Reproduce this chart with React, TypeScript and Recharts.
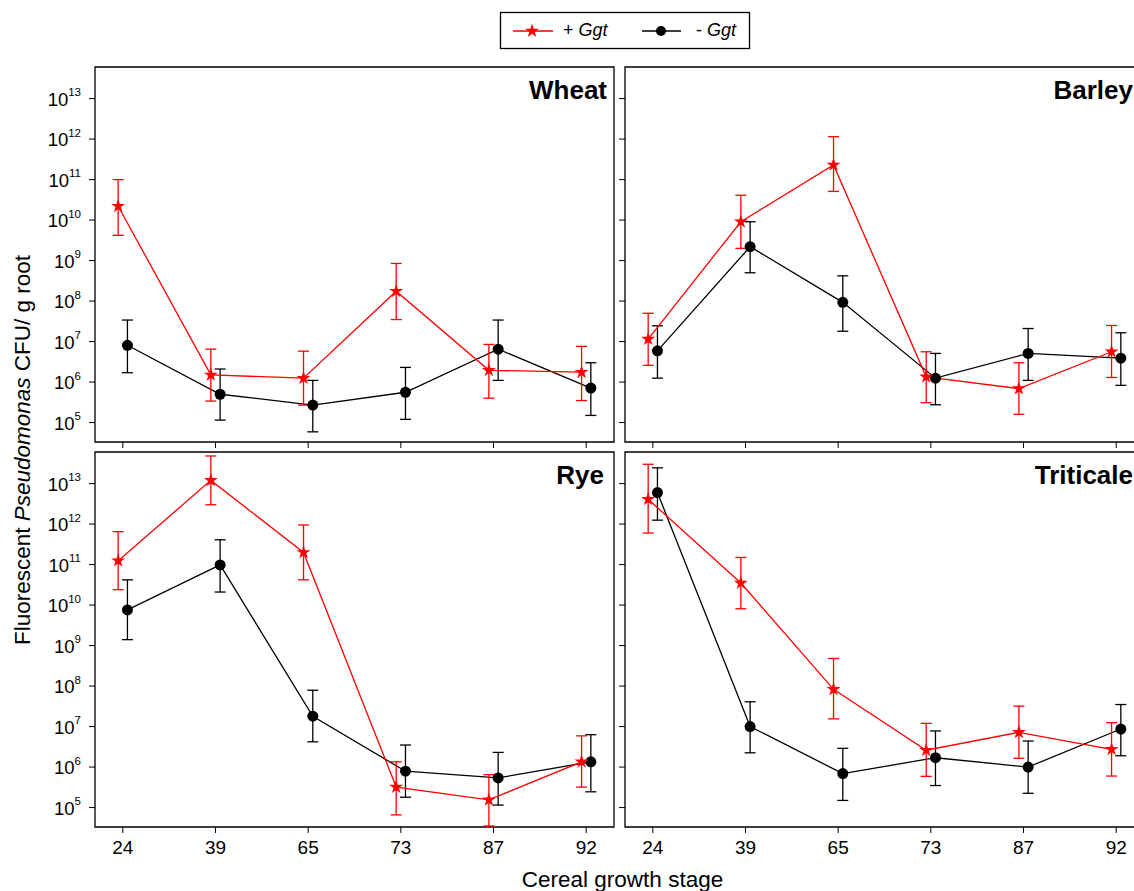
import React from "react";
import { ErrorBar, Line, LineChart, ReferenceArea, Symbols, XAxis, YAxis } from "recharts";

const FONT = "'Liberation Sans', Arial, Helvetica, sans-serif";
const RED = "#ff0000";

const stages = ["24", "39", "65", "73", "87", "92"];
const stageIdx = [0, 1, 2, 3, 4, 5];
const yTicks = [1e5, 1e6, 1e7, 1e8, 1e9, 1e10, 1e11, 1e12, 1e13];
const Y_MIN = 10 ** 4.52;
const Y_MAX = 10 ** 13.78;
const X_MIN = -0.3;
const X_MAX = 5.3;

// Wheat
const wheatPlus = [2.2e10, 1.5e6, 1.25e6, 1.75e8, 1.95e6, 1.75e6];
const wheatPlusHi = [1.0e11, 6.5e6, 5.8e6, 8.5e8, 8.5e6, 7.6e6];
const wheatPlusLo = [4.2e9, 3.4e5, 2.7e5, 3.5e7, 4.0e5, 3.5e5];
const wheatMinus = [8.1e6, 5.0e5, 2.7e5, 5.6e5, 6.5e6, 7.1e5];
const wheatMinusHi = [3.4e7, 2.1e6, 1.1e6, 2.3e6, 3.4e7, 3.0e6];
const wheatMinusLo = [1.7e6, 1.15e5, 5.9e4, 1.2e5, 1.1e6, 1.5e5];

// Barley
const barleyPlus = [1.15e7, 9.1e9, 2.3e11, 1.35e6, 6.9e5, 5.6e6];
const barleyPlusHi = [5.0e7, 4.1e10, 1.15e12, 5.6e6, 3.0e6, 2.5e7];
const barleyPlusLo = [2.6e6, 2.0e9, 5.1e10, 3.1e5, 1.6e5, 1.3e6];
const barleyMinus = [5.9e6, 2.2e9, 9.3e7, 1.25e6, 5.1e6, 3.9e6];
const barleyMinusHi = [2.45e7, 9.1e9, 4.2e8, 5.1e6, 2.1e7, 1.65e7];
const barleyMinusLo = [1.25e6, 5.0e8, 1.8e7, 2.75e5, 1.1e6, 8.3e5];

// Rye
const ryePlus = [1.25e11, 1.2e13, 2.0e11, 3.2e5, 1.55e5, 1.35e6];
const ryePlusHi = [6.5e11, 4.8e13, 9.5e11, 1.35e6, 6.5e5, 5.9e6];
const ryePlusLo = [2.4e10, 3.0e12, 4.2e10, 6.6e4, 3.5e4, 3.2e5];
const ryeMinus = [7.6e9, 9.8e10, 1.8e7, 7.9e5, 5.4e5, 1.35e6];
const ryeMinusHi = [4.2e10, 4.1e11, 7.9e7, 3.5e6, 2.3e6, 6.3e6];
const ryeMinusLo = [1.4e9, 2.1e10, 4.2e6, 1.8e5, 1.15e5, 2.45e5];

// Triticale
const triticalePlus = [4.1e12, 3.5e10, 8.3e7, 2.6e6, 7.2e6, 2.75e6];
const triticalePlusHi = [3.0e13, 1.5e11, 4.8e8, 1.2e7, 3.2e7, 1.25e7];
const triticalePlusLo = [6.0e11, 8.1e9, 1.55e7, 5.9e5, 1.65e6, 6.0e5];
const triticaleMinus = [6.0e12, 1.0e7, 6.9e5, 1.7e6, 1.0e6, 8.7e6];
const triticaleMinusHi = [2.45e13, 4.1e7, 2.9e6, 7.8e6, 4.4e6, 3.5e7];
const triticaleMinusLo = [1.25e12, 2.25e6, 1.5e5, 3.5e5, 2.25e5, 1.9e6];

type Pt = { x: number; y: number; err: [number, number] };

function series(vals: number[], lo: number[], hi: number[], shift: number): Pt[] {
  return vals.map((v, i) => ({ x: stageIdx[i] + shift, y: v, err: [v - lo[i], hi[i] - v] }));
}

const PowerTick = (props: any) => {
  const { x, y, payload } = props;
  const exp = Math.round(Math.log10(payload.value));
  return (
    <text x={x - 6} y={y + 7} textAnchor="end" fontSize={18.5} fill="#000" fontFamily={FONT}>
      10
      <tspan dy={-9.5} fontSize={11.5}>
        {exp}
      </tspan>
    </text>
  );
};

const EmptyTick = () => <g />;

const StarDot = (props: any) => {
  const { cx, cy, index } = props;
  if (cx == null || cy == null) return <g key={index} />;
  return <Symbols key={index} cx={cx} cy={cy} type="star" size={60} fill={RED} stroke="none" />;
};

type PanelProps = {
  left: number;
  top: number;
  width: number;
  height: number;
  yWidth: number;
  xHeight: number;
  showY: boolean;
  showX: boolean;
  plus: Pt[];
  minus: Pt[];
};

function Panel({ left, top, width, height, yWidth, xHeight, showY, showX, plus, minus }: PanelProps) {
  return (
    <div style={{ position: "absolute", left, top }}>
      <LineChart width={width} height={height} margin={{ top: 7, right: 5, left: 0, bottom: 0 }}>
        <XAxis
          dataKey="x"
          type="number"
          domain={[X_MIN, X_MAX]}
          allowDataOverflow
          ticks={stageIdx}
          tickFormatter={(v: number) => stages[v]}
          tick={showX ? { fontSize: 19, fill: "#000", fontFamily: FONT } : EmptyTick}
          tickSize={6}
          tickMargin={8}
          axisLine={false}
          tickLine={{ stroke: "#000", strokeWidth: 1 }}
          height={xHeight}
        />
        <YAxis
          type="number"
          scale="log"
          domain={[Y_MIN, Y_MAX]}
          allowDataOverflow
          ticks={yTicks}
          tick={showY ? PowerTick : EmptyTick}
          tickSize={6}
          axisLine={false}
          tickLine={{ stroke: "#000", strokeWidth: 1 }}
          width={yWidth}
        />
        <ReferenceArea
          x1={X_MIN}
          x2={X_MAX}
          y1={Y_MIN}
          y2={Y_MAX}
          fill="none"
          stroke="#000"
          strokeWidth={1.3}
          ifOverflow="visible"
        />
        <Line
          data={minus}
          dataKey="y"
          stroke="#000"
          strokeWidth={1.3}
          dot={{ r: 5.5, fill: "#000", stroke: "#000", strokeWidth: 0 }}
          isAnimationActive={false}
        >
          <ErrorBar dataKey="err" direction="y" width={5.5} stroke="#000" strokeWidth={1.3} />
        </Line>
        <Line
          data={plus}
          dataKey="y"
          stroke={RED}
          strokeWidth={1.3}
          dot={StarDot}
          isAnimationActive={false}
        >
          <ErrorBar dataKey="err" direction="y" width={5.5} stroke={RED} strokeWidth={1.3} />
        </Line>
      </LineChart>
    </div>
  );
}

export default function App() {
  const shift = 0.05;
  const panels = [
    { title: "Wheat", left: 0, top: 60, yWidth: 95, showY: true, showX: false, titleRight: 607,
      plus: series(wheatPlus, wheatPlusLo, wheatPlusHi, -shift), minus: series(wheatMinus, wheatMinusLo, wheatMinusHi, shift) },
    { title: "Barley", left: 619, top: 60, yWidth: 6, showY: false, showX: false, titleRight: 1133,
      plus: series(barleyPlus, barleyPlusLo, barleyPlusHi, -shift), minus: series(barleyMinus, barleyMinusLo, barleyMinusHi, shift) },
    { title: "Rye", left: 0, top: 445, yWidth: 95, showY: true, showX: true, titleRight: 604,
      plus: series(ryePlus, ryePlusLo, ryePlusHi, -shift), minus: series(ryeMinus, ryeMinusLo, ryeMinusHi, shift) },
    { title: "Triticale", left: 619, top: 445, yWidth: 6, showY: false, showX: true, titleRight: 1133,
      plus: series(triticalePlus, triticalePlusLo, triticalePlusHi, -shift), minus: series(triticaleMinus, triticaleMinusLo, triticaleMinusHi, shift) },
  ];

  return (
    <div
      style={{
        position: "absolute",
        left: 0,
        top: 0,
        width: 1134,
        height: 891,
        overflow: "hidden",
        background: "#fff",
        fontFamily: FONT,
      }}
    >
      {panels.map((p) => {
        const xHeight = p.showX ? 40 : 8;
        return (
          <Panel
            key={p.title}
            left={p.left}
            top={p.top}
            width={p.yWidth + 519 + 5}
            height={7 + 375 + xHeight}
            yWidth={p.yWidth}
            xHeight={xHeight}
            showY={p.showY}
            showX={p.showX}
            plus={p.plus}
            minus={p.minus}
          />
        );
      })}
      <svg
        width={1134}
        height={891}
        style={{ position: "absolute", left: 0, top: 0, pointerEvents: "none" }}
        fontFamily={FONT}
      >
        {panels.map((p) => (
          <text key={p.title} x={p.titleRight} y={p.top + 7 + 32} textAnchor="end" fontSize={26} fontWeight="bold" fill="#000">
            {p.title}
          </text>
        ))}
        <text x={29.5} y={450} transform="rotate(-90, 29.5, 450)" textAnchor="middle" fontSize={22.5} fill="#000">
          Fluorescent <tspan fontStyle="italic">Pseudomonas</tspan> CFU/ g root
        </text>
        <text x={622.5} y={887} textAnchor="middle" fontSize={22.5} fill="#000">
          Cereal growth stage
        </text>
        <g>
          <rect x={500.5} y={12.5} width={249} height={36} fill="#fff" stroke="#000" strokeWidth={1.3} />
          <line x1={513} x2={553} y1={31} y2={31} stroke={RED} strokeWidth={1.3} />
          <Symbols cx={532} cy={31} type="star" size={60} fill={RED} />
          <text x={563} y={36} fontSize={18} fill="#000">
            + <tspan fontStyle="italic">Ggt</tspan>
          </text>
          <line x1={642} x2={681} y1={31} y2={31} stroke="#000" strokeWidth={1.3} />
          <circle cx={661} cy={31} r={5} fill="#000" />
          <text x={696} y={36} fontSize={18} fill="#000">
            - <tspan fontStyle="italic">Ggt</tspan>
          </text>
        </g>
      </svg>
    </div>
  );
}
